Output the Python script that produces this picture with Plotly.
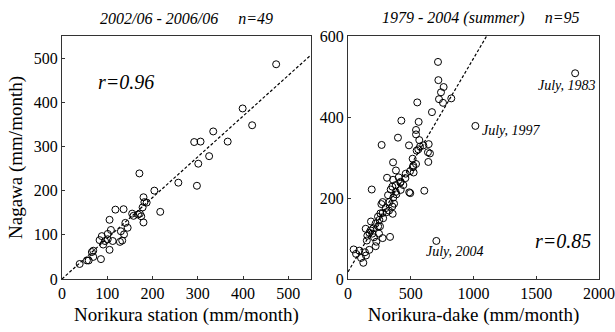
import plotly.graph_objects as go
from plotly.subplots import make_subplots

# Left panel: Norikura station vs Nagawa (2002/06 - 2006/06, n=49)
left_x = [473, 399, 420, 334, 292, 306, 366, 325, 301, 298, 257, 171, 204, 217, 180, 182,
          187, 178, 175, 180, 172, 155, 158, 118, 136, 105, 140, 145, 130, 137, 108, 101,
          88, 83, 101, 112, 128, 133, 91, 105, 69, 66, 69, 86, 55, 59, 39, 95, 168]
left_y = [486, 386, 348, 334, 310, 311, 311, 278, 261, 211, 218, 239, 200, 152, 185, 174,
          173, 162, 142, 128, 148, 148, 143, 157, 158, 134, 127, 116, 108, 101, 111, 102,
          97, 88, 90, 86, 84, 87, 78, 66, 64, 61, 50, 45, 42, 42, 34, 86, 146]
left_fit_x = [0, 550]
left_slope = 0.922

# Right panel: Norikura-dake vs Nagawa (1979 - 2004 summer, n=95)
right_x = [1810, 1015, 704, 717, 720, 762, 741, 725, 757, 823, 552, 669, 425, 563, 542, 542,
           398, 568, 268, 486, 643, 574, 547, 637, 653, 515, 542, 640, 359, 382, 518, 494,
           523, 311, 359, 404, 457, 441, 417, 380, 353, 420, 385, 340, 189, 608, 488, 496,
           319, 361, 367, 276, 266, 353, 327, 308, 356, 276, 258, 239, 250, 183, 220, 141,
           202, 255, 170, 194, 247, 207, 276, 335, 226, 220, 154, 45, 64, 135, 170, 104,
           122, 143, 300, 420, 460, 240, 180, 330, 380, 520, 560, 600, 90, 150, 280]
right_y = [508, 378, 94, 536, 491, 474, 461, 444, 435, 446, 436, 412, 391, 388, 368, 357,
           349, 343, 331, 330, 333, 327, 317, 313, 310, 297, 284, 289, 288, 268, 276, 266,
           263, 250, 245, 251, 249, 232, 238, 232, 228, 220, 209, 221, 221, 218, 214, 212,
           207, 201, 186, 190, 185, 179, 169, 165, 161, 163, 162, 154, 146, 142, 137, 124,
           125, 130, 114, 112, 112, 103, 101, 104, 92, 81, 107, 73, 62, 66, 72, 52,
           40, 58, 175, 240, 260, 130, 120, 190, 215, 280, 320, 330, 70, 95, 150]
right_fit_x = [0, 1105]
right_slope = 0.527
right_icpt = 17.6

notes = [("July, 1983", 1810, 508), ("July, 1997", 1015, 378), ("July, 2004", 704, 94)]

FONT = "Liberation Serif, Times New Roman, serif"

fig = make_subplots(rows=1, cols=2, horizontal_spacing=0.069)

mk = dict(symbol="circle-open", size=7, color="black", line=dict(width=1, color="black"))

fig.add_trace(go.Scatter(x=left_x, y=left_y, mode="markers", marker=mk, showlegend=False), 1, 1)
fig.add_trace(go.Scatter(x=left_fit_x, y=[left_slope * v for v in left_fit_x], mode="lines",
                         line=dict(color="black", width=1.2, dash="3px,2px"), showlegend=False), 1, 1)
fig.add_trace(go.Scatter(x=right_x, y=right_y, mode="markers", marker=mk, showlegend=False), 1, 2)
fig.add_trace(go.Scatter(x=right_fit_x, y=[right_slope * v + right_icpt for v in right_fit_x], mode="lines",
                         line=dict(color="black", width=1.2, dash="3px,2px"), showlegend=False), 1, 2)

axcommon = dict(showgrid=False, zeroline=False, showline=True, mirror=True, linecolor="#333",
                linewidth=1, ticks="inside", ticklen=3, tickcolor="#333", automargin=False,
                tickfont=dict(family=FONT, size=16, color="black"))

fig.update_xaxes(range=[0, 550], tickvals=[0, 100, 200, 300, 400, 500], row=1, col=1, **axcommon,
                 title=dict(text="Norikura station (mm/month)", font=dict(family=FONT, size=19, color="black"), standoff=6))
fig.update_yaxes(range=[0, 550], tickvals=[0, 100, 200, 300, 400, 500], row=1, col=1, **axcommon,
                 title=dict(text="Nagawa (mm/month)", font=dict(family=FONT, size=19, color="black"), standoff=6))
fig.update_xaxes(range=[0, 2000], tickvals=[0, 500, 1000, 1500, 2000], row=1, col=2, **axcommon,
                 title=dict(text="Norikura-dake (mm/month)", font=dict(family=FONT, size=19, color="black"), standoff=6))
fig.update_yaxes(range=[0, 600], tickvals=[0, 200, 400, 600], row=1, col=2, **axcommon)

ann = []
ann.append(dict(x=0.5 * (0.0 + 0.4637), y=1.0, xref="paper", yref="paper", yshift=18, yanchor="middle",
                xanchor="center",
                text="2002/06 - 2006/06&nbsp;&nbsp;&nbsp;&nbsp;&nbsp;n=49", showarrow=False,
                font=dict(family=FONT, size=16, color="black", style="italic")))
ann.append(dict(x=0.5 * (0.5326 + 1.0), y=1.0, xref="paper", yref="paper", yshift=18, xshift=7,
                yanchor="middle", xanchor="center",
                text="1979 - 2004 (summer)&nbsp;&nbsp;&nbsp;&nbsp;&nbsp;n=95", showarrow=False,
                font=dict(family=FONT, size=16, color="black", style="italic")))
ann.append(dict(x=142, y=445, xref="x", yref="y", text="r=0.96", showarrow=False,
                font=dict(family=FONT, size=20, color="black", style="italic")))
ann.append(dict(x=1710, y=95, xref="x2", yref="y2", text="r=0.85", showarrow=False,
                font=dict(family=FONT, size=20, color="black", style="italic")))
offsets = {"July, 1983": (-8, -12), "July, 1997": (36, -5), "July, 2004": (19, -11)}
for t, xv, yv in notes:
    dx, dy = offsets[t]
    ann.append(dict(x=xv, y=yv, xref="x2", yref="y2", text=t, showarrow=False,
                    xshift=dx, yshift=dy, font=dict(family=FONT, size=14, color="black", style="italic")))

fig.update_layout(width=615, height=332, margin=dict(l=62, r=16, t=36, b=53, autoexpand=False),
                  paper_bgcolor="white", plot_bgcolor="white", annotations=ann,
                  font=dict(family=FONT, color="black"))
fig.update_xaxes(domain=[0.0, 0.4637], row=1, col=1)
fig.update_xaxes(domain=[0.5326, 1.0], row=1, col=2)

fig.write_html("out.html")
